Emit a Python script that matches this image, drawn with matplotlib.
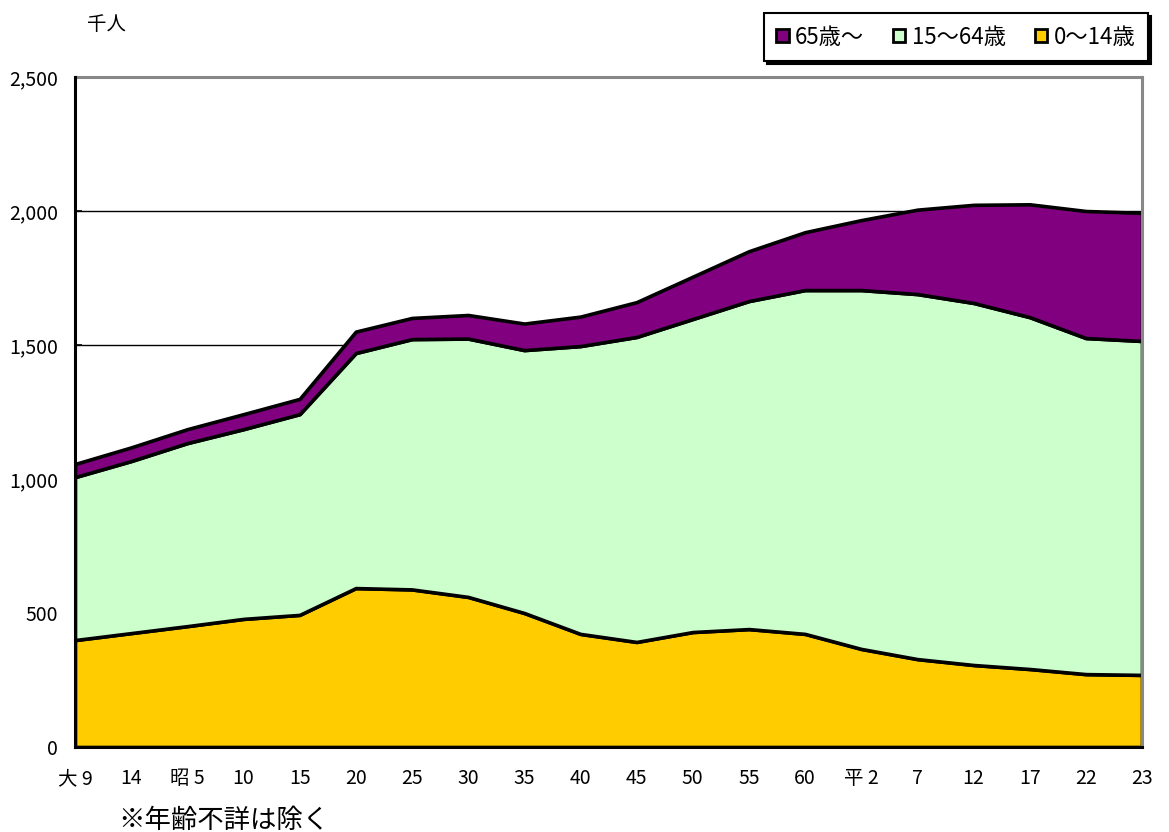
import matplotlib
matplotlib.use("Agg")
import matplotlib.pyplot as plt
import numpy as np

# ---- data (thousand persons) ----
categories = ["大 9", "14", "昭 5", "10", "15", "20", "25", "30", "35", "40",
              "45", "50", "55", "60", "平 2", "7", "12", "17", "22", "23"]
age_0_14 = [399, 425, 451, 478, 493, 593, 588, 560, 500, 422,
            392, 429, 440, 422, 366, 328, 306, 291, 272, 269]
cum_0_64 = [1007, 1067, 1134, 1186, 1242, 1470, 1522, 1524, 1481, 1496,
            1530, 1597, 1664, 1705, 1705, 1690, 1657, 1604, 1526, 1515]
total = [1056, 1118, 1186, 1242, 1299, 1550, 1601, 1612, 1580, 1606,
         1660, 1755, 1850, 1921, 1966, 2005, 2023, 2025, 2000, 1993]

age_15_64 = [b - a for a, b in zip(age_0_14, cum_0_64)]
age_65 = [t - b for b, t in zip(cum_0_64, total)]

series_labels = ["0～14歳", "15～64歳", "65歳～"]
colors = ["#FFCC00", "#CCFFCC", "#800080"]
yticks = [0, 500, 1000, 1500, 2000, 2500]
ytick_labels = ["0", "500", "1,000", "1,500", "2,000", "2,500"]

FONT = ["Liberation Sans Narrow", "Noto Sans CJK JP", "DejaVu Sans"]
plt.rcParams["font.family"] = FONT

W, H = 1169, 832
fig = plt.figure(figsize=(W / 100, H / 100), dpi=100)
ax = fig.add_axes([75 / W, (H - 747) / H, (1142 - 75) / W, (747 - 77) / H])

x = np.arange(len(categories))
polys = ax.stackplot(x, age_0_14, age_15_64, age_65, colors=colors,
                     edgecolor="black", linewidth=2.6, zorder=2)

ax.set_xlim(0, len(categories) - 1)
ax.set_ylim(0, 2500)
ax.set_yticks(yticks)
ax.set_yticklabels(ytick_labels, fontsize=14)
ax.set_xticks(x)
ax.set_xticklabels(categories, fontsize=14)
ax.tick_params(axis="both", direction="in", length=5, width=1.2, color="black")
ax.tick_params(axis="x", pad=15)
ax.tick_params(axis="y", pad=12)

for v in yticks[1:-1]:
    ax.axhline(v, color="black", linewidth=1.0, zorder=1)

for side in ["top", "right"]:
    ax.spines[side].set_color("#888888")
    ax.spines[side].set_linewidth(2.2)
for side in ["left", "bottom"]:
    ax.spines[side].set_color("black")
    ax.spines[side].set_linewidth(2.2)
    ax.spines[side].set_zorder(5)

fig.text(106 / W, 1 - 25 / H, "千人", fontsize=14, ha="center", va="center")
fig.text(118 / W, 1 - 820 / H, "※年齢不詳は除く", fontsize=19, ha="left", va="center")

handles = [polys[2], polys[1], polys[0]]
labels = [series_labels[2], series_labels[1], series_labels[0]]
leg = fig.legend(handles, labels, loc="center", ncol=3,
                 bbox_to_anchor=(956 / W, 1 - 37 / H),
                 fontsize=16, frameon=True, fancybox=False,
                 edgecolor="black", shadow={"color": "black", "alpha": 1.0},
                 handlelength=0.55, handleheight=0.55, handletextpad=0.3,
                 columnspacing=1.3, borderpad=0.55)
leg.get_frame().set_linewidth(1.5)
for h in leg.legend_handles:
    h.set_linewidth(2.0)

fig.savefig("out.png", dpi=100)
